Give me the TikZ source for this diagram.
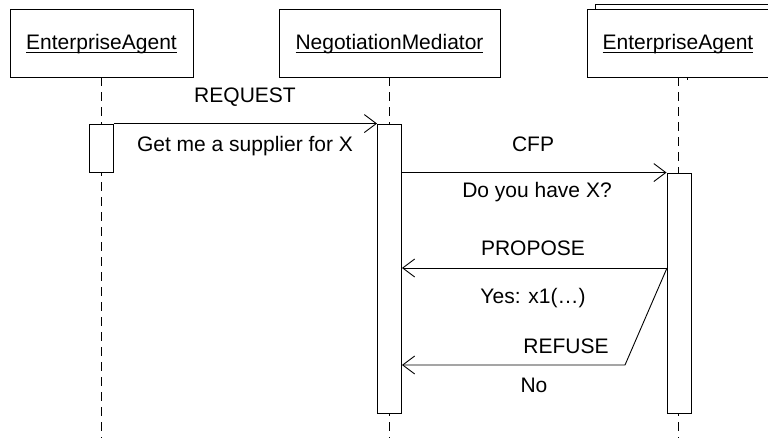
\documentclass[tikz,border=0pt]{standalone}
\usepackage{fontspec}
\setmainfont{Liberation Sans}
\usetikzlibrary{arrows.meta}
\newcommand\ulname[1]{\setbox0\hbox{#1}\rlap{\rule[-3pt]{\wd0}{0.9pt}}\box0}
\tikzset{
  lbl/.style={inner sep=0pt, anchor=base, font=\fontsize{21}{24}\selectfont},
  objbox/.style={draw, fill=white, line width=0.9pt, minimum height=68pt, inner sep=0pt, font=\fontsize{21}{24}\selectfont},
  actbox/.style={draw, fill=white, line width=0.9pt, minimum width=24pt, inner sep=0pt},
  life/.style={line width=0.9pt, dash pattern=on 9pt off 6pt},
  msg/.style={line width=0.9pt, -{Straight Barb[length=12pt,width=18pt,line width=0.9pt]}},
}
\begin{document}
\begin{tikzpicture}[x=1pt,y=-1pt]
\clip (0,0) rectangle (768,438);
\fill[white] (0,0) rectangle (768,438);
% object boxes
\node[objbox, minimum width=183pt] (ea1) at (101.5,43) {};
\node[objbox, minimum width=221pt] (nm) at (389.5,43) {};
\draw[line width=0.9pt, fill=white] (595,4) -- (775,4) -- (775,70) -- (595,70) -- cycle;
\node[objbox, minimum width=182pt] (ea2) at (678,43) {};
\draw[line width=0.9pt] (687,77) -- (687,80);
\node[lbl] (t1) at (101.5,49.5) {\ulname{EnterpriseAgent}};
\node[lbl] (t2) at (389.5,49.5) {\ulname{NegotiationMediator}};
\node[lbl] (t3) at (678,49.5) {\ulname{EnterpriseAgent}};
% lifelines
\coordinate (e1) at (101.5,440);
\coordinate (e2) at (389.5,440);
\coordinate (e3) at (678,440);
\draw[life] (ea1.south) -- (e1);
\draw[life] (nm.south) -- (e2);
\draw[life] (ea2.south) -- (e3);
% activations
\node[actbox, minimum height=48pt] (a1) at (101.5,148) {};
\node[actbox, minimum height=289pt] (a2) at (389.5,268.5) {};
\node[actbox, minimum height=240pt] (a3) at (679,293) {};
% messages
\draw[msg] (a1.north east) -- (a2.north west);
\node[lbl] (m1) at (245,102.5) {REQUEST};
\node[lbl] (m1b) at (245,152) {Get me a supplier for X};
\draw[msg] (a2.east |- a3.north) -- (a3.north west);
\node[lbl] (m2) at (533,152) {CFP};
\node[lbl] (m2b) at (537,198) {Do you have X?};
\coordinate (p1) at (667,268);
\draw[msg] (p1) -- (a2.east |- p1);
\node[lbl] (m3) at (533,256) {PROPOSE};
\node[lbl] (m3b) at (533,303) {Yes: x1(…)};
\coordinate (r1) at (625,365);
\draw[msg] (p1) -- (r1) -- (a2.east |- r1);
\node[lbl] (m4) at (566,353) {REFUSE};
\node[lbl] (m4b) at (534,392) {No};
\end{tikzpicture}
\end{document}
